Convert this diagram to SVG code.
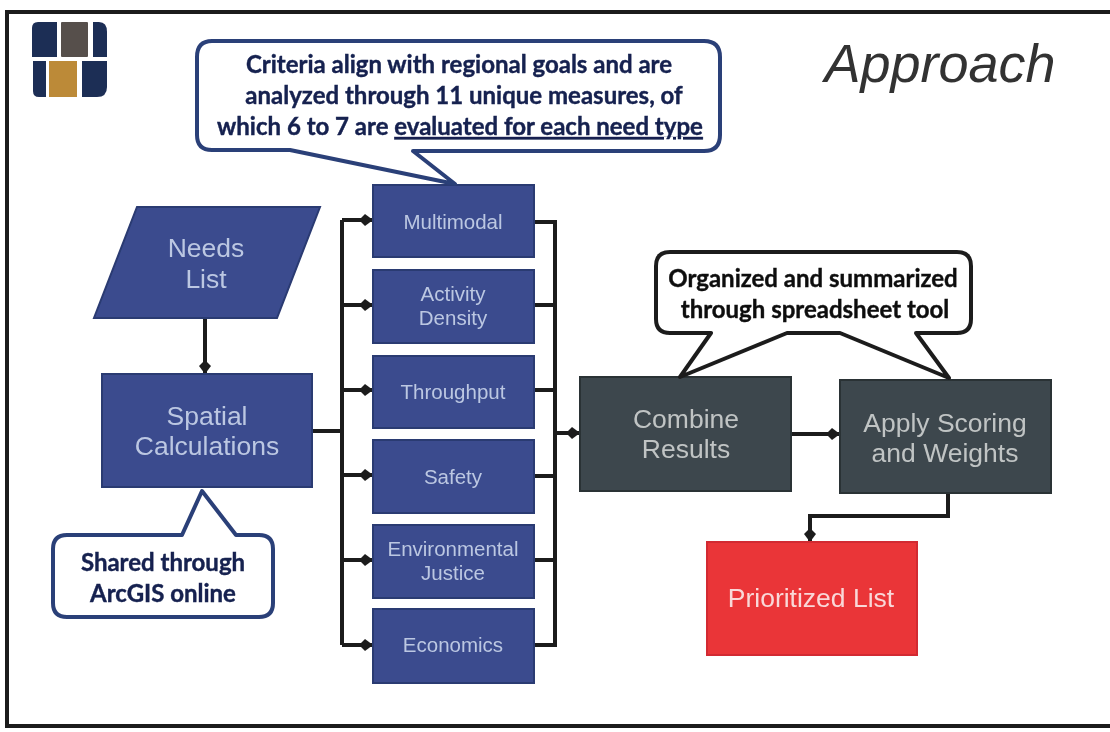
<svg xmlns="http://www.w3.org/2000/svg" width="1110" height="732" viewBox="0 0 1110 732">
<style>
.blue{fill:#3a4c8e;stroke:#2b3a72;stroke-width:2}
.dark{fill:#3e474d;stroke:#2c3236;stroke-width:2}
.red{fill:#ea3437;stroke:#d22c30;stroke-width:2}
.lbl{font-family:"Liberation Sans",Arial,sans-serif;text-anchor:middle;fill:#bcc7e2}
.s{font-size:20.500px}
.m{font-size:26.500px}
.d{fill:#c0c4c4}
.call{fill:#fff;stroke-width:4;stroke-linejoin:round}
.cb{stroke:#2c3f78}
.ck{stroke:#1e1e1e}
.note{font-family:Lato,"Open Sans",sans-serif;font-weight:700;font-size:24px;text-anchor:middle;fill:#14204f;stroke:#14204f;stroke-width:.4}
.nk{fill:#111;stroke:#111}
.wire{fill:none;stroke:#1e1e1e;stroke-width:4}
.logo{fill:#1d2d55}
</style>
<defs>
<marker id="ah" markerUnits="userSpaceOnUse" markerWidth="16" markerHeight="16" refX="15" refY="8" orient="auto"><path d="M1 8L7 2L15 8L7 14Z" fill="#1e1e1e"/></marker>
<filter id="soft" x="-2%" y="-2%" width="104%" height="104%"><feGaussianBlur stdDeviation="0.6"/></filter>
</defs>
<g filter="url(#soft)">
<path id="frame" d="M1110 12H7V726H1110" fill="none" stroke="#1e1e1e" stroke-width="4"/>
<g id="logo">
<path class="logo" d="M38 22H57V57H32V28Q32 22 38 22Z"/>
<rect x="61" y="22" width="27" height="35" rx="1" fill="#57504c"/>
<path class="logo" d="M93 22H99Q107 22 107 32V57H93Z"/>
<path class="logo" d="M33 61H46V97H39Q33 97 33 91Z"/>
<rect x="49" y="61" width="28" height="36" fill="#bc8a37"/>
<path class="logo" d="M82 61H107V87Q107 97 97 97H82Z"/>
</g>
<text id="title" x="940" y="82" font-family="Liberation Sans,Arial,sans-serif" font-style="italic" font-size="54" text-anchor="middle" fill="#333">Approach</text>
<g id="connectors">
<path class="wire" marker-end="url(#ah)" d="M205 318V374"/>
<path class="wire" d="M312 431H342"/>
<path class="wire" d="M342 220V645"/>
<path class="wire" marker-end="url(#ah)" d="M342 220H373"/>
<path class="wire" marker-end="url(#ah)" d="M342 305H373"/>
<path class="wire" marker-end="url(#ah)" d="M342 390H373"/>
<path class="wire" marker-end="url(#ah)" d="M342 475H373"/>
<path class="wire" marker-end="url(#ah)" d="M342 560H373"/>
<path class="wire" marker-end="url(#ah)" d="M342 645H373"/>
<path class="wire" d="M534 222H555V645H534M534 305H555M534 390H555M534 476H555M534 560H555"/>
<path class="wire" marker-end="url(#ah)" d="M555 433H580"/>
<path class="wire" marker-end="url(#ah)" d="M791 434H840"/>
<path class="wire" marker-end="url(#ah)" d="M948 493V516H810V542"/>
</g>
<g id="needs-list"><path class="blue" d="M137 207H320L277 318H94Z"/><text class="lbl m" x="206" y="257">Needs</text><text class="lbl m" x="206" y="288">List</text></g>
<g id="spatial-calculations"><rect class="blue" x="102" y="374" width="210" height="113"/><text class="lbl m" x="207" y="425">Spatial</text><text class="lbl m" x="207" y="455">Calculations</text></g>
<g id="multimodal"><rect class="blue" x="373" y="185" width="161" height="72"/><text class="lbl s" x="453" y="229">Multimodal</text></g>
<g id="activity-density"><rect class="blue" x="373" y="270" width="161" height="73"/><text class="lbl s" x="453" y="301">Activity</text><text class="lbl s" x="453" y="325">Density</text></g>
<g id="throughput"><rect class="blue" x="373" y="356" width="161" height="72"/><text class="lbl s" x="453" y="399">Throughput</text></g>
<g id="safety"><rect class="blue" x="373" y="440" width="161" height="73"/><text class="lbl s" x="453" y="484">Safety</text></g>
<g id="environmental-justice"><rect class="blue" x="373" y="525" width="161" height="73"/><text class="lbl s" x="453" y="556">Environmental</text><text class="lbl s" x="453" y="580">Justice</text></g>
<g id="economics"><rect class="blue" x="373" y="609" width="161" height="74"/><text class="lbl s" x="453" y="652">Economics</text></g>
<g id="combine-results"><rect class="dark" x="580" y="377" width="211" height="114"/><text class="lbl m d" x="686" y="428">Combine</text><text class="lbl m d" x="686" y="458">Results</text></g>
<g id="apply-scoring"><rect class="dark" x="840" y="380" width="211" height="113"/><text class="lbl m d" x="945" y="432">Apply Scoring</text><text class="lbl m d" x="945" y="462">and Weights</text></g>
<g id="prioritized-list"><rect class="red" x="707" y="542" width="210" height="113"/><text class="lbl m" style="fill:#f9d8d8" x="811" y="607">Prioritized List</text></g>
<g id="callout-criteria"><path class="call cb" d="M212 41H704Q720 41 720 57V135Q720 151 704 151H413L455 184L290 150H212Q197 150 197 135V57Q197 41 212 41Z"/>
<text class="note" x="459" y="73">Criteria align with regional goals and are</text>
<text class="note" x="464" y="104">analyzed through 11 unique measures, of</text>
<text class="note" x="460" y="135">which 6 to 7 are <tspan text-decoration="underline">evaluated for each need type</tspan></text></g>
<g id="callout-summary"><path class="call ck" d="M670 252H957Q971 252 971 266V319Q971 333 957 333H916L949 378L840 333H787L680 377L711 333H670Q656 333 656 319V266Q656 252 670 252Z"/>
<text class="note nk" x="813" y="287">Organized and summarized</text>
<text class="note nk" x="815" y="318">through spreadsheet tool</text></g>
<g id="callout-arcgis"><path class="call cb" d="M67 535H182L202 491L236 535H259Q273 535 273 549V603Q273 617 259 617H67Q53 617 53 603V549Q53 535 67 535Z"/>
<text class="note" x="163" y="571">Shared through</text>
<text class="note" x="163" y="602">ArcGIS online</text></g>
</g>
</svg>
